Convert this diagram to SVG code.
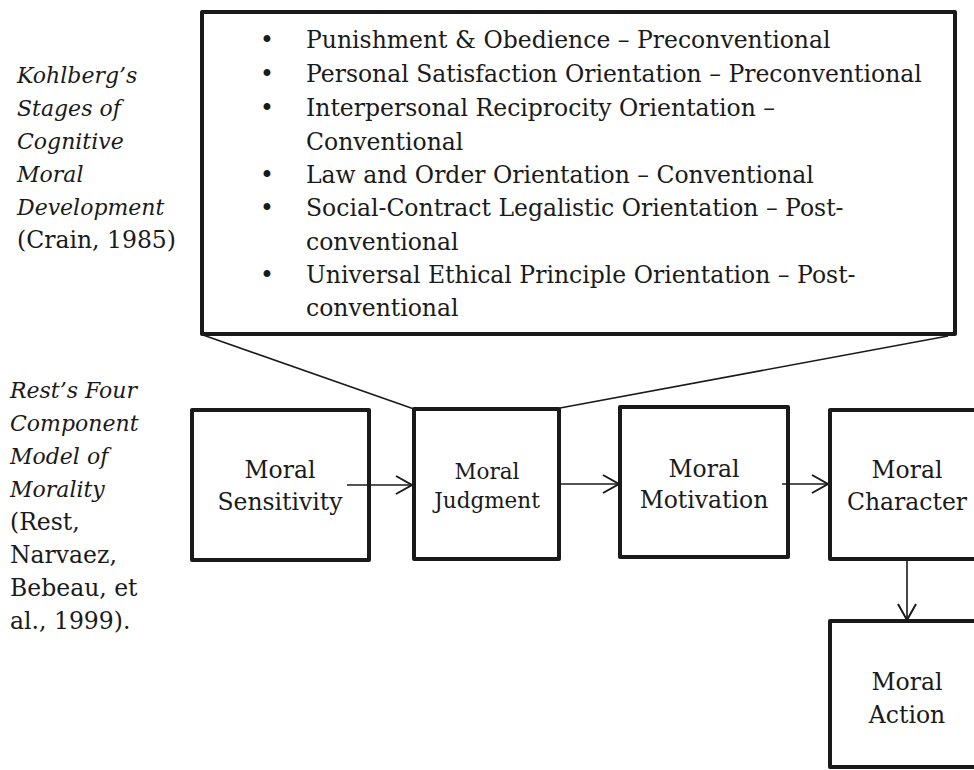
<svg xmlns="http://www.w3.org/2000/svg" width="974" height="770" viewBox="0 0 974 770">
<defs>
<style>
text{font-family:"DejaVu Serif","Liberation Serif",serif;fill:#1a1a1a;}
.t{font-size:23.5px;}
.j{font-size:21.5px;}
.it{font-size:22px;font-style:italic;}
.box{fill:#fff;stroke:#1a1a1a;stroke-width:4;stroke-linejoin:round;}
.ln{fill:none;stroke:#1a1a1a;stroke-width:1.6;}
.c{text-anchor:middle;}
</style>
<marker id="ah" markerUnits="userSpaceOnUse" markerWidth="24" markerHeight="24" viewBox="-20 -12 24 24" refX="0" refY="0" orient="auto">
<path d="M-16,-9 L0,0 L-16,9" fill="none" stroke="#1a1a1a" stroke-width="2"/>
</marker>
</defs>
<rect width="974" height="770" fill="#fff"/>

<g id="kohlberg-label">
<text class="it" x="17" y="83">Kohlberg’s</text>
<text class="it" x="17" y="116">Stages of</text>
<text class="it" x="17" y="149">Cognitive</text>
<text class="it" x="17" y="182">Moral</text>
<text class="it" x="17" y="215">Development</text>
<text class="t" x="17" y="248">(Crain, 1985)</text>
</g>

<g id="rest-label">
<text class="it" x="10" y="398">Rest’s Four</text>
<text class="it" x="10" y="431">Component</text>
<text class="it" x="10" y="464">Model of</text>
<text class="it" x="10" y="497">Morality</text>
<text class="t" x="10" y="530">(Rest,</text>
<text class="t" x="10" y="563">Narvaez,</text>
<text class="t" x="10" y="596">Bebeau, et</text>
<text class="t" x="10" y="629">al., 1999).</text>
</g>

<g id="stages-box">
<rect class="box" x="202" y="12" width="753" height="322"/>
<g class="t">
<text class="c" x="267" y="48">•</text><text x="306" y="48">Punishment &amp; Obedience – Preconventional</text>
<text class="c" x="267" y="82">•</text><text x="306" y="82">Personal Satisfaction Orientation – Preconventional</text>
<text class="c" x="267" y="116">•</text><text x="306" y="116">Interpersonal Reciprocity Orientation –</text>
<text x="306" y="150">Conventional</text>
<text class="c" x="267" y="183">•</text><text x="306" y="183">Law and Order Orientation – Conventional</text>
<text class="c" x="267" y="216">•</text><text x="306" y="216">Social-Contract Legalistic Orientation – Post-</text>
<text x="306" y="250">conventional</text>
<text class="c" x="267" y="283">•</text><text x="306" y="283">Universal Ethical Principle Orientation – Post-</text>
<text x="306" y="316">conventional</text>
</g>
</g>

<g id="moral-sensitivity">
<rect class="box" x="192" y="410" width="177" height="150"/>
<text class="t c" x="280" y="478">Moral</text>
<text class="t c" x="280" y="510">Sensitivity</text>
</g>

<g id="moral-judgment">
<rect class="box" x="414" y="409" width="145" height="150"/>
<text class="j c" x="487" y="479">Moral</text>
<text class="j c" x="487" y="508">Judgment</text>
</g>

<g id="moral-motivation">
<rect class="box" x="620" y="407" width="168" height="150"/>
<text class="t c" x="704" y="477">Moral</text>
<text class="t c" x="704" y="508">Motivation</text>
</g>

<g id="moral-character">
<rect class="box" x="830" y="410" width="180" height="149"/>
<text class="t c" x="907" y="478">Moral</text>
<text class="t c" x="907" y="510">Character</text>
</g>

<g id="moral-action">
<rect class="box" x="830" y="621" width="180" height="146"/>
<text class="t c" x="907" y="690">Moral</text>
<text class="t c" x="907" y="723">Action</text>
</g>

<g id="connectors">
<line class="ln" x1="203" y1="335" x2="414" y2="409"/>
<line class="ln" x1="948" y1="336" x2="560" y2="408"/>
<line class="ln" x1="347" y1="485" x2="412" y2="485" marker-end="url(#ah)"/>
<line class="ln" x1="561" y1="484" x2="619" y2="484" marker-end="url(#ah)"/>
<line class="ln" x1="782" y1="484" x2="828" y2="484" marker-end="url(#ah)"/>
<line class="ln" x1="907" y1="560" x2="907" y2="620" marker-end="url(#ah)"/>
</g>
</svg>
